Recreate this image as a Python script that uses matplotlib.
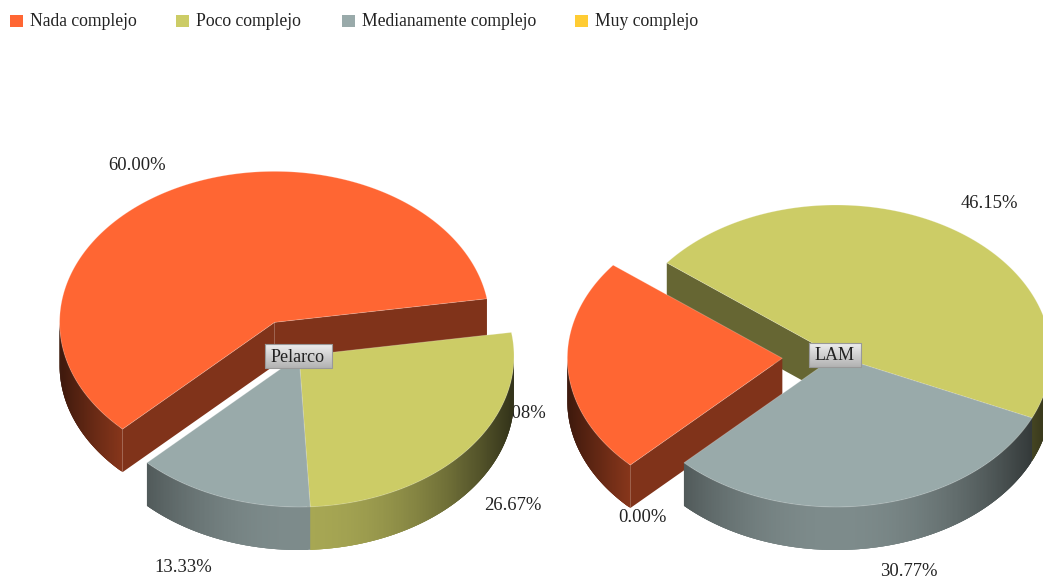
import numpy as np
import matplotlib
matplotlib.use('Agg')
import matplotlib.pyplot as plt

categorias = ['Nada complejo', 'Poco complejo', 'Medianamente complejo', 'Muy complejo']
pelarco = [60.00, 26.67, 13.33, 0.00]
lam = [23.08, 46.15, 30.77, 0.00]
etiquetas_pelarco = ['60.00%', '26.67%', '13.33%']
etiquetas_lam = ['23.08%', '46.15%', '30.77%', '0.00%']

colores = ['#FF6633', '#CCCC66', '#99AAAA', '#FFCC33']

# layout en pixeles
RX, RY, ALTO = 215, 151, 43
INICIO = 225
EXPLOTA = 0.25
pos_pelarco = [(137, 165), (513, 505), (183, 567)]
pos_lam = [(517, 413), (989, 204), (909, 571), (642, 518)]
legend_x = [10, 176, 342, 575]

plt.rcParams['font.family'] = ['Liberation Serif', 'DejaVu Serif']

fig = plt.figure(figsize=(10.43, 5.79), dpi=100)
ax = fig.add_axes([0, 0, 1, 1])


def oscuro(color, f):
    r, g, b = matplotlib.colors.to_rgb(color)
    return (r * f, g * f, b * f)


def punto(cx, cy, ang):
    return cx + RX * np.cos(np.radians(ang)), cy - RY * np.sin(np.radians(ang))


def cara(cx, cy, ang, color, z):
    x, y = punto(cx, cy, ang)
    ax.fill([cx, x, x, cx], [cy, y, y + ALTO, cy + ALTO], color=oscuro(color, 0.5), lw=0, zorder=z)


def pastel(cx, cy, valores, z):
    total = sum(valores)
    trozos = []
    a = INICIO
    for i, v in enumerate(valores):
        if v > 0:
            trozos.append((i, a, a - v / total * 360))
        a -= v / total * 360
    # de atras hacia adelante
    trozos.sort(key=lambda t: -np.sin(np.radians((t[1] + t[2]) / 2)))
    for i, a0, a1 in trozos:
        c = colores[i]
        x0, y0 = cx, cy
        if i == 0:
            m = np.radians((a0 + a1) / 2)
            x0 = cx + EXPLOTA * RX * np.cos(m)
            y0 = cy - EXPLOTA * RY * np.sin(m)
        if np.cos(np.radians(a0)) < 0:
            cara(x0, y0, a0, c, z)
        if np.cos(np.radians(a1)) > 0:
            cara(x0, y0, a1, c, z)
        # lado curvo con degradado, cada tira pisa a la siguiente para que no se vean rayas
        angs = np.append(np.arange(a0, a1, -0.5), a1)
        for p, q in zip(angs[:-1], angs[1:]):
            if np.sin(np.radians((p + q) / 2)) >= 0:
                continue
            f = 0.82 - 0.58 * np.cos(np.radians((p + q) / 2)) ** 2
            q2 = max(q - 1.0, a1)
            t = np.linspace(p, q2, 4)
            xs, ys = punto(x0, y0, t)
            ax.fill(np.r_[xs, xs[::-1]], np.r_[ys, ys[::-1] + ALTO], facecolor=oscuro(c, f), lw=0, zorder=z)
        t = np.linspace(a0, a1, 200)
        xs, ys = punto(x0, y0, t)
        ax.fill(np.r_[x0, xs], np.r_[y0, ys], facecolor=c, edgecolor='#FFFFFF40', lw=0.6, zorder=z)


def caja(cx, cy, texto, ancho):
    alto = 24
    grad = np.linspace(0.93, 0.70, 40).reshape(-1, 1)
    ax.imshow(grad, cmap='gray', vmin=0, vmax=1, aspect='auto', zorder=20,
              extent=(cx - ancho / 2, cx + ancho / 2, cy + alto / 2, cy - alto / 2))
    ax.plot([cx - ancho / 2, cx + ancho / 2, cx + ancho / 2, cx - ancho / 2, cx - ancho / 2],
            [cy - alto / 2, cy - alto / 2, cy + alto / 2, cy + alto / 2, cy - alto / 2],
            color='#999999', lw=0.8, zorder=21)
    ax.text(cx, cy + 1, texto, ha='center', va='center', fontsize=13, color='#222222', zorder=22)


pastel(836, 356, lam, 3)
pastel(299, 356, pelarco, 3)

caja(298, 356, 'Pelarco', 67)
caja(835, 355, 'LAM', 52)

for txt, (x, y) in zip(etiquetas_pelarco, pos_pelarco):
    ax.text(x, y, txt, ha='center', va='center', fontsize=13.4, color='#222222', zorder=30)
for i, (txt, (x, y)) in enumerate(zip(etiquetas_lam, pos_lam)):
    # el 23.08% queda tapado por el otro pastel
    ax.text(x, y, txt, ha='center', va='center', fontsize=13.4, color='#222222', zorder=1 if i == 0 else 30)

for x, cat, c in zip(legend_x, categorias, colores):
    ax.fill([x, x + 13, x + 13, x], [15, 15, 27, 27], color=c, lw=0)
    ax.text(x + 20, 22, cat, ha='left', va='center', fontsize=12.7, color='#222222')

ax.set_xlim(0, 1043)
ax.set_ylim(579, 0)
ax.axis('off')
fig.savefig('out.png', dpi=100)
